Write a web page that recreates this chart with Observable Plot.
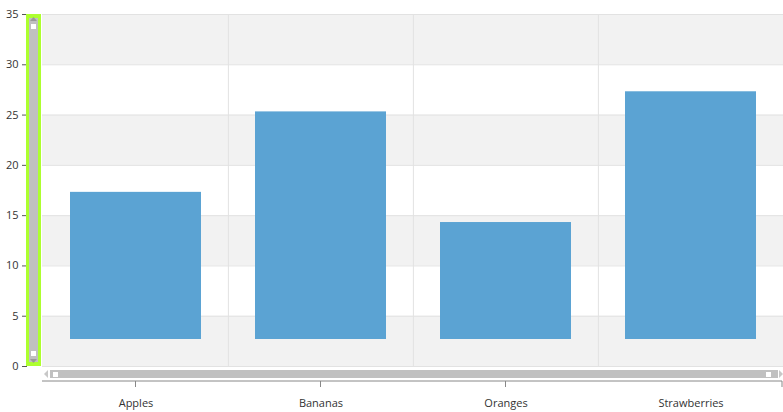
<!DOCTYPE html>
<html>
<head>
<meta charset="utf-8">
<script src="https://cdn.jsdelivr.net/npm/d3@7"></script>
<script src="https://cdn.jsdelivr.net/npm/@observablehq/plot@0.6"></script>
<style>
body { margin: 0; background: #fff; }
</style>
</head>
<body>
<div id="chart"></div>
<script>
const fruits = ["Apples", "Bananas", "Oranges", "Strawberries"]
const amounts = [20, 28, 17, 30]
const yTicks = [0, 5, 10, 15, 20, 25, 30, 35]
const bandStarts = [0, 10, 20, 30]

const data = fruits.map((f, i) => ({fruit: f, value: amounts[i]}))

const plot = Plot.plot({
   width: 783,
   height: 412,
   marginLeft: 42,
   marginRight: 0,
   marginTop: 14,
   marginBottom: 46,
   style: {fontFamily: "Open Sans", fontSize: "11px", color: "#333"},
   x: {domain: fruits, padding: 0, axis: null},
   y: {domain: [0, 35], ticks: yTicks, label: null},
   marks: [
      Plot.rectY(bandStarts, {y1: d => d, y2: d => d + 5, fill: "#f2f2f2"}),
      Plot.ruleY(yTicks, {stroke: "#e2e2e2"}),
      Plot.ruleX(fruits.slice(1), {x: d => d, dx: -741 / 8, stroke: "#e2e2e2"}),
      Plot.barY(data, {x: "fruit", y: "value", fill: "#5ba3d3", inset: 27}),
      Plot.axisY({ticks: yTicks, tickSize: 5, dx: -15, stroke: "#555", label: null, fontSize: 11}),
      Plot.text(data, {x: "fruit", frameAnchor: "bottom", text: "fruit", dy: 40, fontSize: 11, fill: "#333"})
   ]
})

document.querySelector("#chart").append(plot)

// decorative scroll bars and category axis, placed from the plot's scales
const sx = plot.scale("x"), sy = plot.scale("y")
const pLeft = 42, pRight = 783
const pTop = sy.apply(35), pBottom = sy.apply(0)
const svg = d3.select(plot)
const g = svg.append("g")

// vertical (selected) scroll bar
g.append("rect").attr("x", 26).attr("y", pTop).attr("width", 15).attr("height", pBottom - pTop).attr("fill", "#adff2f")
g.append("rect").attr("x", 29).attr("y", pTop + 4).attr("width", 9).attr("height", pBottom - pTop - 8).attr("fill", "#c0c0c0")
g.append("rect").attr("x", 31).attr("y", pTop + 10).attr("width", 5).attr("height", 5).attr("fill", "#fff")
g.append("rect").attr("x", 31).attr("y", pBottom - 15).attr("width", 5).attr("height", 5).attr("fill", "#fff")
g.append("path").attr("d", `M30,${pTop + 7}L33.5,${pTop + 3}L37,${pTop + 7}Z`).attr("fill", "#999")
g.append("path").attr("d", `M30,${pBottom - 7}L33.5,${pBottom - 3}L37,${pBottom - 7}Z`).attr("fill", "#999")

// horizontal scroll bar
g.append("rect").attr("x", 50).attr("y", pBottom + 4).attr("width", 728).attr("height", 8).attr("fill", "#c0c0c0")
g.append("rect").attr("x", 53).attr("y", pBottom + 6).attr("width", 5).attr("height", 5).attr("fill", "#fff")
g.append("rect").attr("x", 766).attr("y", pBottom + 6).attr("width", 5).attr("height", 5).attr("fill", "#fff")
g.append("path").attr("d", `M48,${pBottom + 4}L44,${pBottom + 8}L48,${pBottom + 12}Z`).attr("fill", "#c8c8c8")
g.append("path").attr("d", `M779,${pBottom + 4}L783,${pBottom + 8}L779,${pBottom + 12}Z`).attr("fill", "#c8c8c8")

// category axis line with boundary ticks
const ay = pBottom + 15
g.append("line").attr("x1", pLeft).attr("x2", pRight - 1).attr("y1", ay).attr("y2", ay).attr("stroke", "#888")
const bounds = fruits.map(f => sx.apply(f) - sx.bandwidth / 2).concat([pRight - 1])
for (const b of bounds) {
   g.append("line").attr("x1", b).attr("x2", b).attr("y1", ay).attr("y2", ay + 6).attr("stroke", "#888")
}
</script>
</body>
</html>
